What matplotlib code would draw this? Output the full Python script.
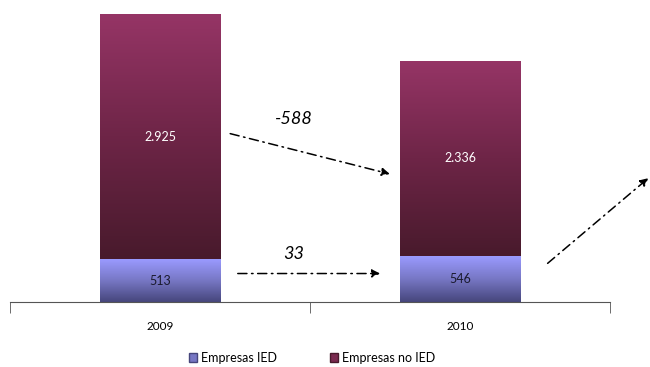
import numpy as np
import matplotlib.pyplot as plt
from matplotlib.colors import LinearSegmentedColormap
from matplotlib.patches import Patch

plt.rcParams['font.family'] = ['Lato', 'DejaVu Sans']

anios = ['2009', '2010']
ied = [513, 546]
no_ied = [2925, 2336]
etiquetas_no_ied = ['2.925', '2.336']
etiquetas_ied = ['513', '546']
variaciones = ['-588', '33']

fig = plt.figure(figsize=(6.5, 3.67), dpi=100)
ax = fig.add_axes([10/650, 65/367, 600/650, 302/367])

x = np.arange(len(anios))
ancho = 0.403

b_ied = ax.bar(x, ied, ancho, color='none', edgecolor='none', zorder=2)
b_no = ax.bar(x, no_ied, ancho, bottom=ied, color='none', edgecolor='none', zorder=2)

cm_ied = LinearSegmentedColormap.from_list('ied', ['#46467c', '#7777c4', '#9a9aff'])
cm_no = LinearSegmentedColormap.from_list('no', ['#481a2c', '#6e2547', '#963566'])
grad = np.linspace(0, 1, 256).reshape(-1, 1)

# relleno degradado vertical dentro de cada barra
for barras, cm in ((b_ied, cm_ied), (b_no, cm_no)):
    for r in barras:
        x0, y0 = r.get_x(), r.get_y()
        im = ax.imshow(grad, cmap=cm, origin='lower', aspect='auto',
                       extent=[x0, x0 + r.get_width(), y0, y0 + r.get_height()],
                       zorder=1)
        im.set_clip_path(r)

for i in range(len(anios)):
    ax.text(x[i], ied[i] / 2, etiquetas_ied[i], ha='center', va='center',
            fontsize=9, color='#1a1a2e')
    ax.text(x[i], ied[i] + no_ied[i] / 2, etiquetas_no_ied[i], ha='center',
            va='center', fontsize=9, color='white')

ax.set_xlim(-0.5, 1.5)
ax.set_ylim(0, 3605)

flecha = dict(arrowstyle='-|>', linestyle=(0, (6, 3, 1, 3)), color='black',
              lw=1.1, mutation_scale=12)
ax.annotate('', xy=(0.775, 1520), xytext=(0.225, 2018), arrowprops=flecha)
ax.annotate('', xy=(0.743, 340), xytext=(0.25, 340), arrowprops=flecha)
ax.annotate('', xy=(1.635, 1500), xytext=(1.285, 440), arrowprops=flecha,
            annotation_clip=False)
ax.text(0.447, 2180, variaciones[0], ha='center', va='center', fontsize=13,
        style='italic')
ax.text(0.447, 570, variaciones[1], ha='center', va='center', fontsize=13,
        style='italic')

for s in ('top', 'right', 'left'):
    ax.spines[s].set_visible(False)
ax.spines['bottom'].set_color('#555555')
ax.set_yticks([])
ax.set_xticks(x)
ax.set_xticklabels(anios, fontsize=8.5)
ax.tick_params(axis='x', which='major', length=0, pad=14)
ax.set_xticks([-0.5, 0.5, 1.5], minor=True)
ax.tick_params(axis='x', which='minor', length=8, color='#555555')

handles = [Patch(facecolor='#7777c4', edgecolor='#46467c'),
           Patch(facecolor='#7a2a50', edgecolor='#481a2c')]
fig.legend(handles, ['Empresas IED', 'Empresas no IED'], loc='center',
           bbox_to_anchor=(312/650, 1 - 358/367), ncol=2, frameon=False,
           fontsize=9, handlelength=0.7, handleheight=0.7,
           handletextpad=0.3, columnspacing=4.2)

fig.savefig('out.png', dpi=100)
